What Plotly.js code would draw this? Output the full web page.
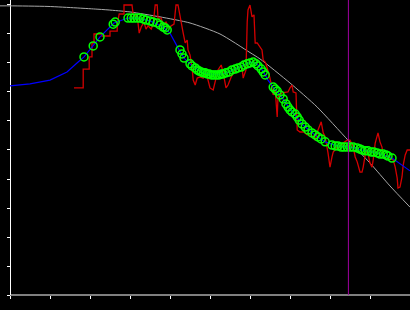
<!DOCTYPE html>
<html>
<head>
<meta charset="utf-8">
<script src="https://cdn.plot.ly/plotly-3.0.1.min.js"></script>
<style>html,body{margin:0;padding:0;background:#000;}#chart{width:410px;height:310px;}</style>
</head>
<body>
<div id="chart"></div>
<script>
// Envelope (gray) curve
const grayX = [-0.25, 0, 0.95, 1.65, 2.13, 2.45, 3.0, 3.75, 4.5, 5.25, 6.0, 6.25, 7.0, 7.68, 8.45, 9.0, 9.5, 10.0];
const grayY = [9.97, 9.97, 9.95, 9.90, 9.86, 9.83, 9.76, 9.59, 9.38, 9.0, 8.36, 8.14, 7.31, 6.48, 5.34, 4.55, 3.76, 3.03];

// Raw noisy series (red)
const redX = [1.60,1.83,1.83,1.98,1.98,2.05,2.05,2.10,2.10,2.28,2.30,2.50,2.50,2.68,2.68,2.73,2.85,2.85,3.05,3.08,3.18,3.23,3.28,3.35,3.40,3.45,3.53,3.58,3.63,3.68,3.70,3.78,3.83,3.90,3.98,4.03,4.10,4.15,4.20,4.25,4.30,4.33,4.38,4.43,4.45,4.50,4.55,4.58,4.63,4.68,4.75,4.83,4.90,4.95,5.00,5.08,5.13,5.20,5.28,5.33,5.40,5.45,5.53,5.63,5.70,5.80,5.83,5.90,5.93,5.95,6.00,6.05,6.10,6.13,6.18,6.25,6.30,6.33,6.38,6.43,6.50,6.58,6.63,6.68,6.70,6.80,6.88,6.95,7.00,7.05,7.08,7.15,7.18,7.25,7.35,7.43,7.53,7.63,7.70,7.78,7.83,7.88,7.95,8.00,8.05,8.08,8.18,8.25,8.33,8.43,8.50,8.58,8.63,8.68,8.75,8.80,8.83,8.88,8.93,9.00,9.05,9.08,9.13,9.18,9.20,9.25,9.30,9.33,9.43,9.50,9.58,9.63,9.68,9.70,9.75,9.80,9.83,9.88,9.93,10.00];
const redY = [7.14,7.14,7.79,7.79,8.21,8.21,8.69,8.69,9.00,9.00,8.93,8.93,9.10,9.10,9.31,9.69,9.69,10.0,10.0,9.66,9.62,9.03,9.24,9.41,9.17,9.28,9.17,9.34,10.0,10.0,9.55,9.55,9.31,9.41,9.21,9.28,9.34,10.0,10.0,9.59,9.21,9.03,8.69,8.79,8.45,8.28,7.86,7.41,7.24,7.48,7.52,7.48,7.69,7.41,7.14,7.07,7.41,7.76,7.93,7.66,7.14,7.24,7.52,7.76,7.83,7.86,7.48,7.76,9.41,9.83,10.0,9.59,9.66,8.69,8.69,8.55,8.45,8.10,8.03,7.83,7.48,6.90,7.07,6.14,6.83,6.97,7.00,7.00,7.14,7.24,7.00,6.97,5.69,5.62,5.62,5.52,5.52,5.34,5.69,5.97,5.59,5.45,4.90,4.41,4.76,4.93,5.10,5.10,5.24,5.34,5.34,5.10,4.76,4.59,4.24,4.24,4.41,4.83,5.00,4.55,4.41,4.66,5.24,5.52,5.59,5.28,5.10,4.83,4.76,4.72,4.66,4.41,4.03,3.69,3.72,4.07,4.48,4.83,5.00,5.00];

// Fitted curve (blue)
const fitX = [0,0.5,1.0,1.425,1.675,1.85,2.075,2.25,2.6,2.95,3.175,3.5,3.825,4.0,4.2,4.35,4.55,4.825,5.175,5.425,5.7,5.95,6.075,6.2,6.325,6.45,6.575,6.775,7.0,7.325,7.625,7.875,8.175,8.5,8.8,9.175,9.55,9.675,10.0];
const fitY = [7.21,7.28,7.41,7.69,8.0,8.21,8.59,8.90,9.38,9.55,9.55,9.45,9.24,9.03,8.52,8.17,7.90,7.66,7.59,7.66,7.83,8.0,8.03,7.93,7.72,7.41,7.17,6.86,6.41,5.86,5.52,5.28,5.14,5.10,5.00,4.90,4.72,4.59,4.28];

// Sample points (green circles)
const ptX = [1.85,2.08,2.25,2.58,2.63,2.95,3.03,3.10,3.18,3.25,3.33,3.40,3.50,3.58,3.68,3.75,3.83,3.88,3.93,4.25,4.30,4.35,4.50,4.55,4.63,4.68,4.73,4.78,4.83,4.88,4.93,4.98,5.03,5.08,5.13,5.18,5.23,5.28,5.33,5.40,5.48,5.55,5.63,5.70,5.78,5.85,5.93,6.00,6.08,6.15,6.20,6.28,6.33,6.38,6.58,6.63,6.68,6.75,6.83,6.90,6.95,7.00,7.05,7.13,7.18,7.23,7.30,7.38,7.45,7.55,7.63,7.70,7.78,7.88,8.05,8.13,8.20,8.28,8.35,8.43,8.50,8.58,8.68,8.75,8.80,8.88,8.95,9.03,9.10,9.18,9.25,9.33,9.40,9.45,9.55];
const ptY = [8.21,8.59,8.90,9.34,9.41,9.55,9.55,9.55,9.55,9.55,9.52,9.48,9.45,9.41,9.38,9.31,9.24,9.21,9.14,8.45,8.31,8.17,7.97,7.90,7.83,7.76,7.72,7.69,7.66,7.66,7.62,7.62,7.59,7.59,7.59,7.59,7.59,7.62,7.62,7.66,7.69,7.76,7.79,7.83,7.86,7.93,7.97,8.00,8.03,7.97,7.90,7.79,7.69,7.59,7.17,7.10,7.03,6.90,6.76,6.59,6.48,6.38,6.31,6.24,6.14,6.03,5.90,5.79,5.69,5.59,5.52,5.45,5.38,5.28,5.17,5.14,5.14,5.10,5.10,5.10,5.10,5.10,5.07,5.03,5.00,4.97,4.97,4.93,4.93,4.90,4.86,4.86,4.83,4.79,4.72];

// Vertical marker position
const cutX = 8.46;

// Axis settings
const xRange = [-0.25, 10];
const yRange = [0, 10.172];
const xTicks = [0,1,2,3,4,5,6,7,8,9,10];
const yTicks = [0,1,2,3,4,5,6,7,8,9,10];

const traces = [
  {x: grayX, y: grayY, mode: 'lines', line: {color: '#a8a8a8', width: 1, shape: 'spline', smoothing: 0.6}, hoverinfo: 'skip'},
  {x: redX, y: redY, mode: 'lines', line: {color: '#d40000', width: 1.3}, hoverinfo: 'skip'},
  {x: fitX, y: fitY, mode: 'lines', line: {color: '#0000ff', width: 1.2}, hoverinfo: 'skip'},
  {x: ptX, y: ptY, mode: 'markers', marker: {symbol: 'circle-open', size: 8, color: '#00ff00', line: {color: '#00ff00', width: 1.5}}, hoverinfo: 'skip'}
];

const layout = {
  width: 410, height: 310,
  paper_bgcolor: '#000', plot_bgcolor: '#000',
  margin: {l: 0, r: 0, t: 0, b: 15, pad: 0},
  showlegend: false,
  xaxis: {range: xRange, showgrid: false, zeroline: false, showline: false,
          tickvals: xTicks, ticks: 'outside', ticklen: 3, tickwidth: 1, tickcolor: '#ffffff',
          showticklabels: false, layer: 'below traces'},
  yaxis: {range: yRange, anchor: 'free', position: 10/410, showgrid: false, zeroline: false,
          showline: true, linecolor: '#ffffff', linewidth: 1,
          tickvals: yTicks, ticks: 'outside', ticklen: 3, tickwidth: 1, tickcolor: '#ffffff',
          showticklabels: false, layer: 'below traces'},
  shapes: [
    {type: 'line', xref: 'paper', yref: 'paper', x0: 10/410, x1: 1, y0: 0, y1: 0,
     line: {color: '#ffffff', width: 1}, layer: 'below'},
    {type: 'line', xref: 'x', yref: 'paper', x0: cutX, x1: cutX, y0: 0, y1: 1,
     line: {color: '#a000a0', width: 1}, layer: 'above'}
  ]
};

Plotly.newPlot('chart', traces, layout, {staticPlot: true, displayModeBar: false});
</script>
</body>
</html>
